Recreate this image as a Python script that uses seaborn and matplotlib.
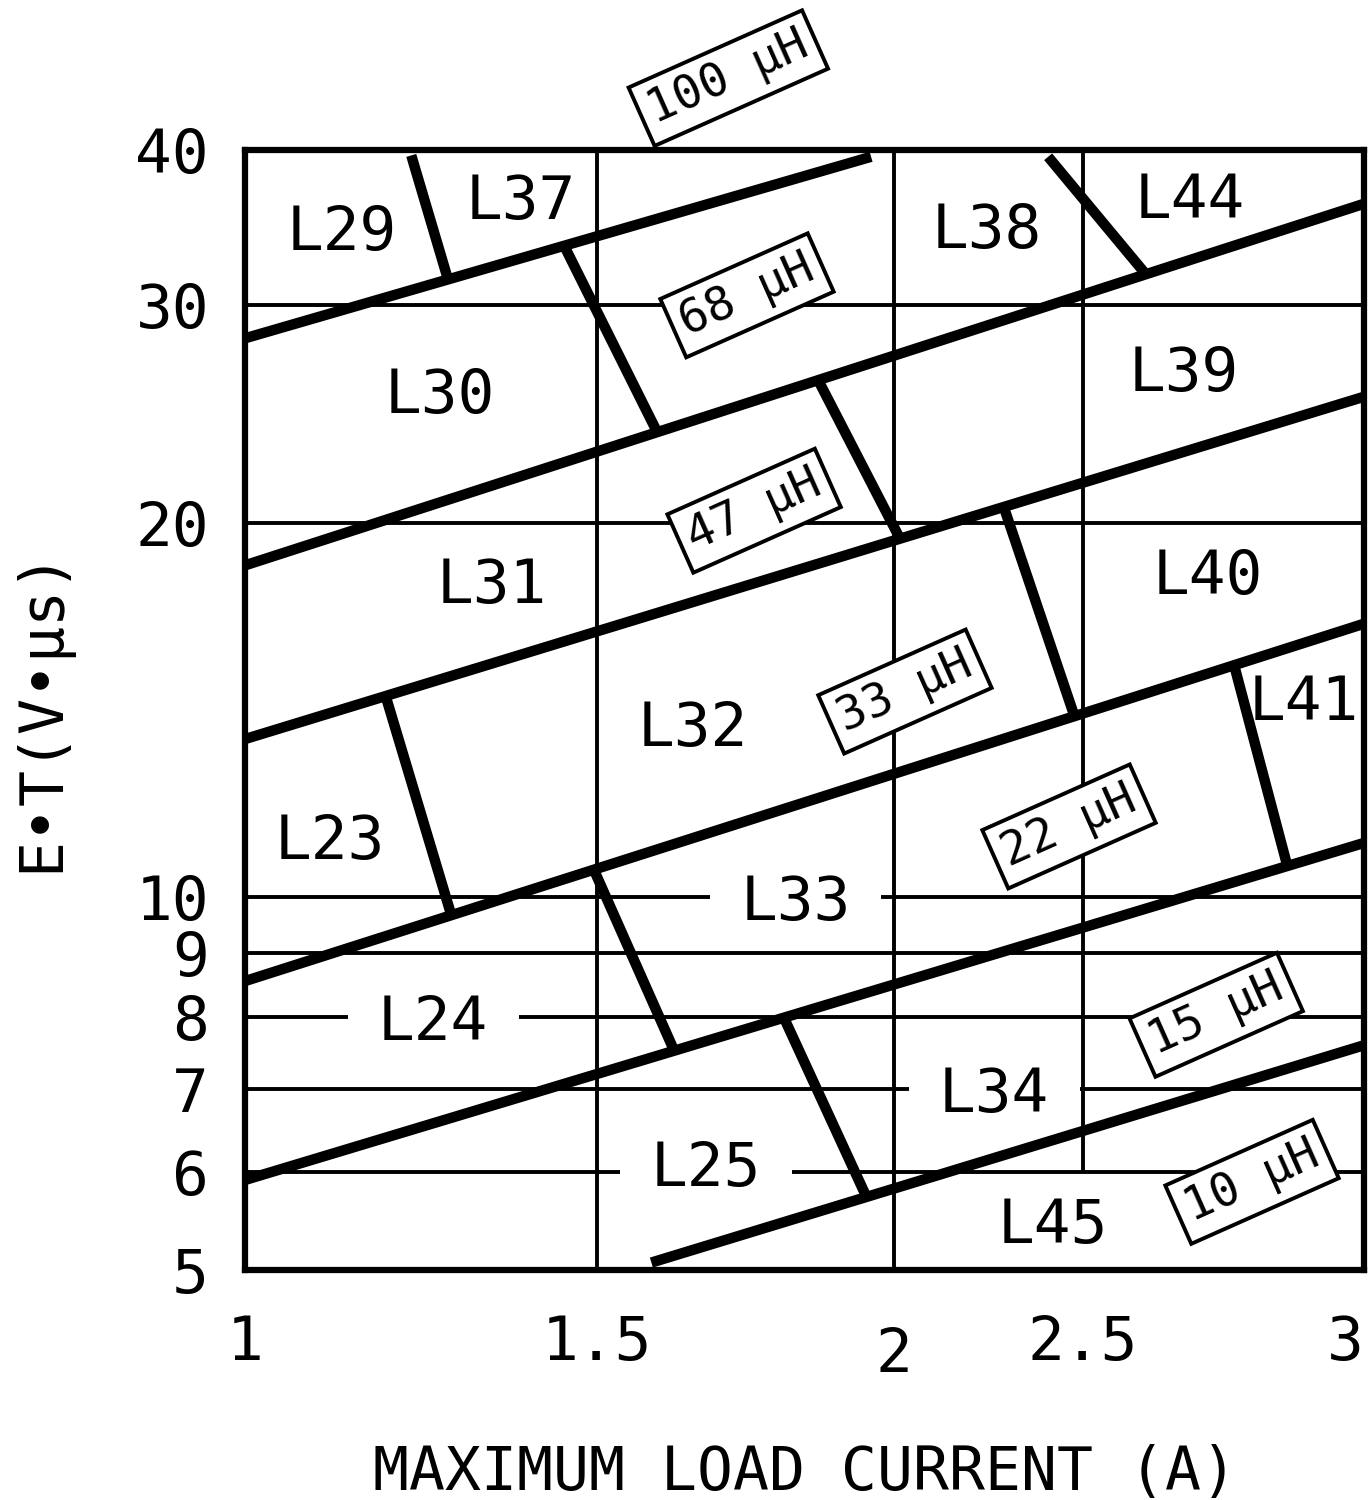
import numpy as np
import pandas as pd
import matplotlib
matplotlib.use("Agg")
import matplotlib.pyplot as plt
from matplotlib.path import Path
from matplotlib.ticker import NullLocator
import seaborn as sns

# --- axes ---
x_ticks = [1, 1.5, 2, 2.5, 3]
x_tick_labels = ["1", "1.5", "2", "2.5", "3"]
y_ticks = [5, 6, 7, 8, 9, 10, 20, 30, 40]
y_tick_labels = ["5", "6", "7", "8", "9", "10", "20", "30", "40"]
# the current axis of the datasheet is not evenly divided:
# share of the axis width where each x tick sits
x_tick_frac = [0.0, 0.3146, 0.5800, 0.7489, 1.0]

# vertical grid lines (current) and the E*T value where each one starts
grid_x = [1.5, 2, 2.5]
grid_x_from = [5, 5, 6]

# --- inductance boundaries (current in A, E*T in V*us) ---
bound_x0 = [1.0, 1.0, 1.0, 1.0, 1.0, 1.581]
bound_y0 = [28.2, 18.5, 13.4, 8.55, 5.91, 5.07]
bound_x1 = [1.956, 3.0, 3.0, 3.0, 3.0, 3.0]
bound_y1 = [39.5, 36.2, 25.3, 16.6, 11.05, 7.59]

# --- borders between inductor codes ---
sep_x0 = [1.211, 1.446, 1.860, 2.399, 2.277, 1.176, 2.757, 1.495, 1.798]
sep_y0 = [39.6, 33.35, 26.0, 39.5, 20.6, 14.5, 15.4, 10.5, 7.98]
sep_x1 = [1.263, 1.588, 2.012, 2.603, 2.474, 1.268, 2.854, 1.616, 1.947]
sep_y1 = [31.5, 23.8, 19.5, 31.8, 14.0, 9.67, 10.6, 7.52, 5.73]

# --- inductor codes ---
code_names = ["L29", "L37", "L30", "L31", "L38", "L44", "L39", "L40", "L41",
              "L32", "L23", "L33", "L24", "L25", "L34", "L45"]
code_x = [1.118, 1.373, 1.252, 1.328, 2.230, 2.680, 2.668, 2.711, 2.885,
          1.645, 1.103, 1.818, 1.242, 1.667, 2.251, 2.413]
code_y = [34.7, 36.7, 25.6, 18.0, 34.8, 36.8, 26.7, 18.3, 14.5,
          13.8, 11.2, 10.0, 8.0, 6.1, 7.0, 5.49]
# codes sitting on a grid line get a white gap
code_on_grid = ["L33", "L24", "L25", "L34"]

# --- inductance values ---
ind_names = ["100 µH", "68 µH", "47 µH", "33 µH", "22 µH", "15 µH", "10 µH"]
ind_x = [1.700, 1.731, 1.743, 2.021, 2.453, 2.722, 2.786]
ind_y = [46.1, 30.8, 20.65, 14.76, 11.49, 8.10, 5.94]

sns.set_style("white")
plt.rcParams["font.family"] = ["DejaVu Sans Mono", "DejaVu Sans"]
plt.rcParams["text.color"] = "black"
plt.rcParams["axes.labelcolor"] = "black"
plt.rcParams["xtick.color"] = "black"
plt.rcParams["ytick.color"] = "black"

log_xt = np.log(x_ticks)


def lin_interp(v, xp, fp):
    v = np.asarray(v, dtype=float)
    out = np.interp(v, xp, fp)
    lo = v < xp[0]
    hi = v > xp[-1]
    out = np.where(lo, fp[0] + (v - xp[0]) * (fp[1] - fp[0]) / (xp[1] - xp[0]), out)
    out = np.where(hi, fp[-1] + (v - xp[-1]) * (fp[-1] - fp[-2]) / (xp[-1] - xp[-2]), out)
    return out


def x_fwd(x):
    x = np.clip(np.asarray(x, dtype=float), 1e-3, None)
    return lin_interp(np.log(x), log_xt, x_tick_frac)


def x_inv(f):
    return np.exp(lin_interp(f, x_tick_frac, log_xt))


def gap_box(x0, y0, width, height, mutation_size):
    """white box, wide left/right, thin top/bottom"""
    px = 0.5 * mutation_size
    py = 0.02 * mutation_size
    xa, xb = x0 - px, x0 + width + px
    ya, yb = y0 - py, y0 + height + py
    return Path([(xa, ya), (xb, ya), (xb, yb), (xa, yb), (xa, ya)], closed=True)


# long-form table of all thick segments
rows = []
for i in range(len(bound_x0)):
    rows.append({"seg": f"b{i}", "x": bound_x0[i], "y": bound_y0[i]})
    rows.append({"seg": f"b{i}", "x": bound_x1[i], "y": bound_y1[i]})
for i in range(len(sep_x0)):
    rows.append({"seg": f"s{i}", "x": sep_x0[i], "y": sep_y0[i]})
    rows.append({"seg": f"s{i}", "x": sep_x1[i], "y": sep_y1[i]})
df = pd.DataFrame(rows)

fig = plt.figure(figsize=(13.72, 15), dpi=100)
ax = fig.add_axes([0.1786, 0.1533, 0.8156, 0.7467])

sns.lineplot(data=df, x="x", y="y", units="seg", estimator=None, sort=False,
             color="black", linewidth=7.5, solid_capstyle="butt",
             legend=False, zorder=3, ax=ax)

ax.set_xscale("function", functions=(x_fwd, x_inv))
ax.set_yscale("log")
ax.set_xlim(1, 3)
ax.set_ylim(5, 40)

ax.set_xticks(x_ticks, x_tick_labels)
ax.set_yticks(y_ticks, y_tick_labels)
ax.xaxis.set_minor_locator(NullLocator())
ax.yaxis.set_minor_locator(NullLocator())
ax.tick_params(axis="x", length=0, pad=32, labelsize=44, colors="black")
ax.tick_params(axis="y", length=0, pad=26, labelsize=44, colors="black")
ax.xaxis.get_major_ticks()[2].set_pad(40)
ax.get_xticklabels()[-1].set_horizontalalignment("right")

ax.set_axisbelow(True)
ax.grid(axis="y", color="black", linewidth=2.8)
ax.grid(axis="x", visible=False)
ax.vlines(grid_x, grid_x_from, 40, colors="black", linewidth=2.8, zorder=1)

for s in ax.spines.values():
    s.set_linewidth(4.5)
    s.set_color("black")
    s.set_zorder(4)

for name, x, y in zip(code_names, code_x, code_y):
    kw = {}
    if name in code_on_grid:
        kw["bbox"] = dict(boxstyle=gap_box, fc="white", ec="none")
    ax.text(x, y, name, fontsize=44, ha="center", va="center_baseline",
            color="black", zorder=2, **kw)

for name, x, y in zip(ind_names, ind_x, ind_y):
    ax.text(x, y, name, fontsize=34, ha="center", va="center_baseline",
            rotation=24, rotation_mode="anchor", zorder=6, clip_on=False,
            color="black",
            bbox=dict(boxstyle="square,pad=0.2", fc="white", ec="black", lw=2.8))

ax.set_xlabel("MAXIMUM LOAD CURRENT (A)", fontsize=43, color="black")
ax.set_ylabel("E•T(V•µs)", fontsize=43, color="black")
ax.xaxis.set_label_coords(0.5, -0.155)
ax.yaxis.set_label_coords(-0.155, 0.5)

fig.savefig("out.png", dpi=100, facecolor="white")
